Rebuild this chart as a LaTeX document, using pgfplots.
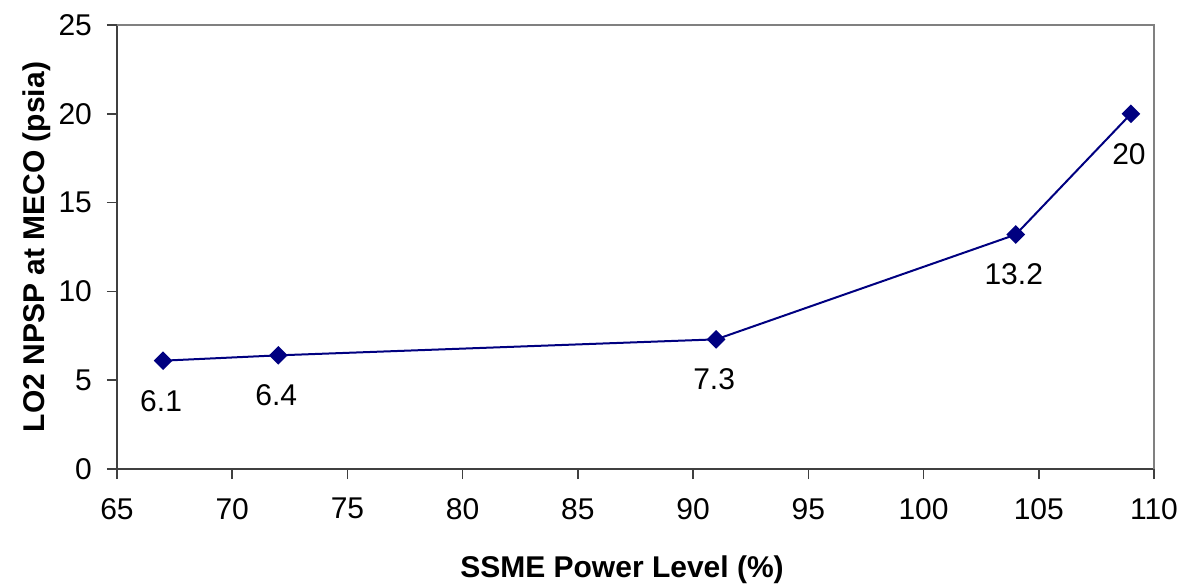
\documentclass[border=0pt]{standalone}
\usepackage{fontspec}
\setmainfont{Liberation Sans}
\usepackage{pgfplots}
\pgfplotsset{compat=1.18}
\definecolor{navyline}{RGB}{0,0,128}
\definecolor{axdark}{RGB}{64,64,64}
\definecolor{axgray}{RGB}{128,128,128}
\begin{document}
\begin{tikzpicture}
\path[use as bounding box] (-58.5pt,-58pt) rectangle (534.5pt,234.5pt);
\begin{axis}[
  at={(0pt,0pt)}, anchor=south west,
  scale only axis,
  width=518.5pt, height=222pt,
  xmin=65, xmax=110, ymin=0, ymax=25,
  xtick={65,70,...,110}, ytick={0,5,...,25},
  separate axis lines,
  axis x line*=bottom, axis y line*=left,
  axis line style={-, line width=1pt, color=axdark},
  tick align=outside,
  major tick length=5pt,
  tick style={line width=0.8pt, color=axdark},
  /pgf/number format/assume math mode=true,
  ticklabel style={font=\fontsize{15}{18}\selectfont},
  xticklabel style={yshift=-6pt},
  yticklabel style={xshift=-4pt},
  xlabel={SSME Power Level (\%)},
  ylabel={LO2 NPSP at MECO (psia)},
  label style={font=\fontsize{15}{18}\selectfont\bfseries},
  xlabel style={at={(axis description cs:0.487,-0.2275)}, anchor=center},
  ylabel style={at={(axis description cs:-0.0772,0.5)}, anchor=center},
  clip=false,
]
\draw[axgray, line width=1pt] (rel axis cs:0,1) -- (rel axis cs:1,1) -- (rel axis cs:1,0);
\addplot[navyline, line width=1pt, mark=square*, mark size=2.8pt,
  mark options={rotate=45, fill=navyline, draw=navyline},
  nodes near coords,
  point meta=explicit symbolic,
  every node near coord/.style={anchor=center, yshift=-20pt, xshift=-1pt, inner sep=0pt, text=black, font=\fontsize{15}{18}\selectfont}
] table[meta=lab] {
x y lab
67 6.1 6.1
72 6.4 6.4
91 7.3 7.3
104 13.2 13.2
109 20 20
};
\end{axis}
\end{tikzpicture}
\end{document}
